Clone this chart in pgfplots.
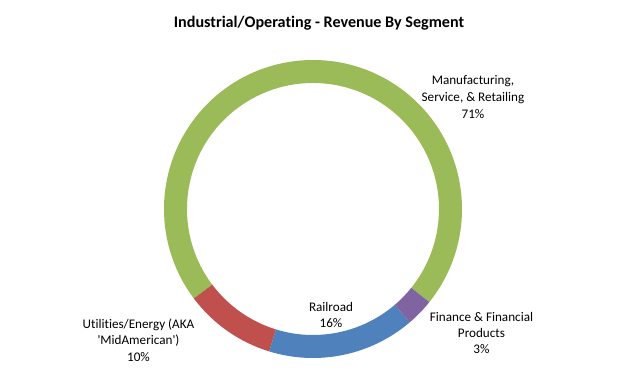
\documentclass[border=0pt]{standalone}
\usepackage{pgfplots}
\usepackage{pgfplotstable}
\pgfplotsset{compat=1.18}
\usepackage{fontspec}
\setmainfont{Carlito}[Ligatures={NoCommon}]
\definecolor{mfg}{HTML}{9BBB59}
\definecolor{util}{HTML}{C0504D}
\definecolor{rail}{HTML}{4F81BD}
\definecolor{fin}{HTML}{8064A2}
\pgfplotstableread[col sep=comma]{
segment,value,color
Manufacturing,71,mfg
Utilities,10,util
Railroad,16,rail
Finance,3,fin
}\segments
\begin{document}
\begin{tikzpicture}
\path[use as bounding box] (0,0) rectangle (640bp,371bp);
\begin{axis}[
  at={(0,0)}, anchor=south west, scale only axis,
  x=1bp, y=1bp, xmin=0, xmax=640, ymin=0, ymax=371,
  hide axis, clip=false]
\pgfplotsextra{
  \xdef\cum{0}
  \foreach \i in {0,...,3} {
    \pgfplotstablegetelem{\i}{value}\of\segments \let\v\pgfplotsretval
    \pgfplotstablegetelem{\i}{color}\of\segments \let\c\pgfplotsretval
    \pgfmathsetmacro\a{321.3+3.6*\cum}
    \pgfmathsetmacro\b{\a+3.6*\v}
    \fill[\c] ([shift={(\a:149bp)}]axis cs:313,162) arc[start angle=\a, end angle=\b, radius=149bp]
      -- ([shift={(\b:126bp)}]axis cs:313,162) arc[start angle=\b, end angle=\a, radius=126bp] -- cycle;
    \pgfmathsetmacro\newcum{\cum+\v}
    \xdef\cum{\newcum}
  }
}
\node[font=\fontsize{16.2}{19}\selectfont\bfseries] at (axis cs:319,348) {Industrial/Operating - Revenue By Segment};
\node[align=center, font=\fontsize{13.2}{17}\selectfont] at (axis cs:473,274) {Manufacturing,\\Service, \& Retailing\\71\%};
\node[align=center, font=\fontsize{13.2}{16.5}\selectfont] at (axis cs:481.5,38) {Finance \& Financial\\Products\\3\%};
\node[align=center, font=\fontsize{13.2}{16.5}\selectfont] at (axis cs:138.5,31) {Utilities/Energy (AKA\\\textquotesingle MidAmerican\textquotesingle)\\10\%};
\node[align=center, font=\fontsize{13.2}{16.5}\selectfont] at (axis cs:331,56) {Railroad\\16\%};
\end{axis}
\end{tikzpicture}
\end{document}
